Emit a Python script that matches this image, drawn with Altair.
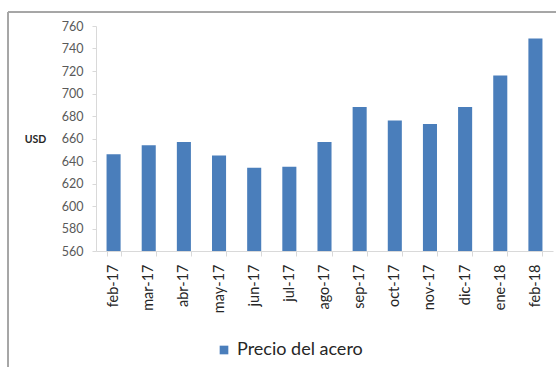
import altair as alt
import pandas as pd

months = ["feb-17", "mar-17", "abr-17", "may-17", "jun-17", "jul-17", "ago-17",
          "sep-17", "oct-17", "nov-17", "dic-17", "ene-18", "feb-18"]
prices = [646, 654, 657, 645, 634, 635, 657, 688, 676, 673, 688, 716, 749]
series = ["Precio del acero"] * len(months)

df = pd.DataFrame({"mes": months, "precio": prices, "serie": series})

FONT = "Lato"

bars = alt.Chart(df).mark_bar(color="#4A7EBB").encode(
    x=alt.X("mes:N", sort=months,
            scale=alt.Scale(paddingInner=0.6, paddingOuter=0.3),
            axis=alt.Axis(title=None, labelAngle=-90, labelFontSize=14.5,
                          labelColor="#262626", labelPadding=8,
                          tickBand="extent", tickSize=5, tickColor="#d9d9d9",
                          domainColor="#d9d9d9", labelFont=FONT)),
    y=alt.Y("precio:Q",
            scale=alt.Scale(domain=[560, 760], zero=False, nice=False),
            axis=alt.Axis(values=list(range(560, 761, 20)), grid=False,
                          title="USD", titleAngle=0, titleX=-61, titleY=113,
                          titleAlign="center", titleBaseline="middle",
                          titleFontSize=10.5, titleFontWeight="bold",
                          titleColor="#262626", titleFont=FONT,
                          labelFontSize=12.5, labelColor="#595959", labelFont=FONT,
                          labelPadding=9,
                          tickSize=4, tickColor="#d9d9d9", domainColor="#d9d9d9")),
    y2=alt.datum(560),
    color=alt.Color("serie:N", scale=alt.Scale(range=["#4A7EBB"]),
                    legend=alt.Legend(title=None, orient="none", legendX=119,
                                      legendY=315, symbolType="square",
                                      symbolSize=75, labelFontSize=18,
                                      labelFont=FONT, labelColor="#262626")),
)

left_border = alt.Chart(df).mark_rule(color="#a6a6a6").encode(
    x=alt.value(-88), y=alt.value(-14), y2=alt.value(367))
top_border = alt.Chart(df).mark_rule(color="#a6a6a6").encode(
    x=alt.value(-88), x2=alt.value(470), y=alt.value(-14))

chart = alt.layer(bars, left_border, top_border).properties(
    width=457, height=225,
    autosize=alt.AutoSizeParams(type="none"),
    padding={"left": 96, "top": 26, "right": 3, "bottom": 116},
    background="white",
).configure_view(stroke=None)

chart.save("out.html", embed_options={"renderer": "svg", "actions": False})
